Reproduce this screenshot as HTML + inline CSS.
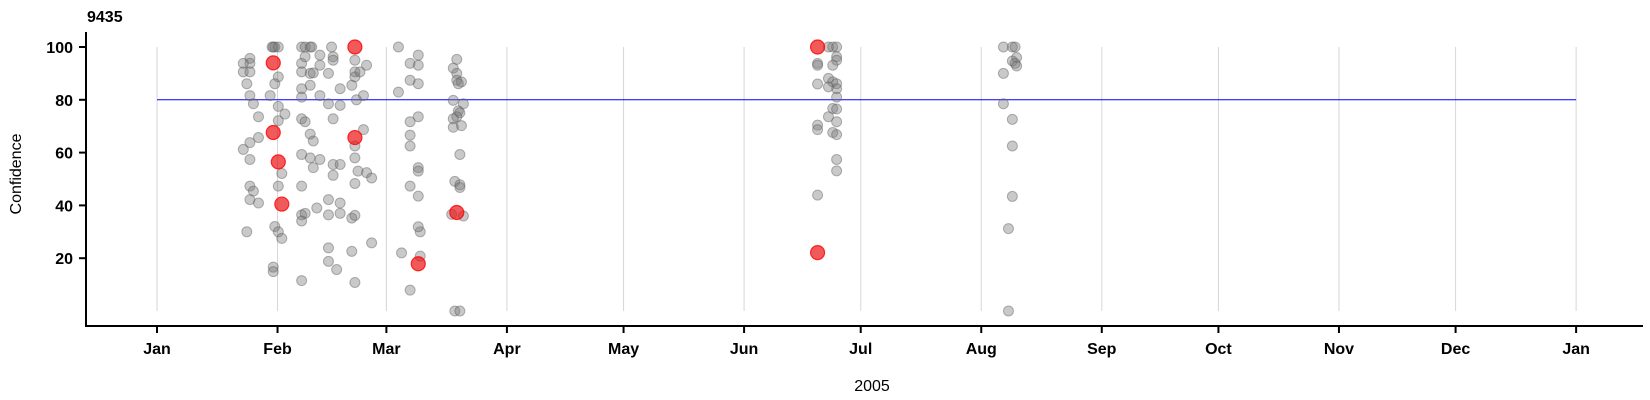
<!DOCTYPE html>
<html><head><meta charset="utf-8"><style>
html,body{margin:0;padding:0;background:#fff;}
svg{display:block;font-family:"Liberation Sans",Arial,sans-serif;}
</style></head><body>
<svg id="chart" width="1650" height="400">
<text x="87" y="22" font-size="16" font-weight="bold" fill="#000">9435</text>
<g id="grid"></g>
<g id="refline"></g>
<g id="points"></g>
<g id="axes"></g>
<text transform="translate(21,174) rotate(-90)" text-anchor="middle" font-size="16">Confidence</text>
<text x="872" y="391" text-anchor="middle" font-size="16">2005</text>
</svg>
<script>
const monthLabels=["Jan","Feb","Mar","Apr","May","Jun","Jul","Aug","Sep","Oct","Nov","Dec","Jan"];
const monthDays=[0,31,59,90,120,151,181,212,243,273,304,334,365];
const yTicks=[20,40,60,80,100];
const threshold=80;
const grayDays=[29.9,30.3,29.6,31.2,37.2,38.1,39.4,39.8,44.9,62.1,
23.9,23.9,22.2,22.2,23.9,23.1,23.9,24.8,26.1,26.1,23.9,22.2,23.9,23.9,24.8,23.9,26.1,23.1,
30.3,31.2,32.1,29.9,29.9,31.2,30.3,29.1,31.2,32.9,31.2,32.1,31.2,37.2,
37.2,38.1,37.2,39.4,40.2,41.9,41.9,44.1,45.3,45.3,47.1,41.9,44.1,47.1,37.2,37.2,39.4,45.3,37.2,38.1,39.4,40.2,39.4,37.2,40.2,41.9,45.3,47.1,45.3,37.2,38.1,37.2,41.1,44.1,44.1,47.1,47.1,50.1,50.9,44.1,44.1,46.2,37.2,50.1,50.9,
50.9,50.9,50.9,52.2,53.9,50.1,53.1,51.3,50.9,50.9,51.7,53.9,55.2,50.9,53.1,55.2,
65.1,67.2,67.2,65.1,67.2,62.1,67.2,65.1,65.1,65.1,67.2,67.2,65.1,67.2,62.9,67.7,65.1,67.7,67.2,
77.1,76.2,77.1,77.1,78.3,77.5,76.2,78.8,77.5,77.9,77.1,76.2,78.3,76.2,77.9,76.6,77.9,77.9,78.8,75.8,76.6,77.9,
172.7,173.8,174.8,169.9,169.9,174.8,174.8,173.8,172.7,173.8,174.8,174.8,169.9,172.7,174.8,173.8,174.8,172.7,174.8,169.9,169.9,173.8,174.8,174.8,174.8,169.9,
217.7,220,220.7,221.1,220,220.7,221.1,217.7,217.7,220,220,220,219,219];
const grayValues=[100,100,100,100,100,100,100,100,100,100,
95.7,93.8,93.8,90.6,90.6,86.1,81.6,78.5,73.6,65.7,63.8,61.2,57.4,47.3,45.4,42.2,40.9,30,
32,30,27.5,16.6,14.9,88.7,86.1,81.6,77.5,74.6,72.1,52.1,47.3,47.3,
93.8,96.3,90.6,90,90.2,96.9,93.1,90,96.3,95,84.2,81.6,78.5,77.9,84.2,81,85.5,72.8,72.8,71.7,67,64.4,58,59.3,54.3,57.4,55.5,55.5,51.4,36.4,37,34.1,39,42.2,36.4,40.9,37,35.2,36.2,23.9,18.8,15.7,11.5,22.6,10.8,
95,90.6,88.7,90.6,93.1,85.5,81.6,80,62.5,58,53,52.4,50.4,48.3,68.7,25.8,
93.8,96.9,93.1,87.4,86.1,82.9,73.6,71.7,66.6,62.5,54.3,53,47.3,43.5,22,20.8,7.9,30,31.9,
95.3,92,90,87.4,86.8,86.1,79.8,78.5,75.8,75.1,73.6,72.8,70.2,69.6,59.3,49.1,47.8,46.8,36,36.6,0,0,
100,100,100,93.8,93.1,96.3,95,93.1,88.1,86.8,86.1,84.2,86,84.9,81,76.7,76.5,73.6,71.7,70.4,68.7,67.6,66.8,57.4,53.1,43.9,
100,100,100,96,94.7,93.8,92.8,90,78.5,72.6,62.5,43.4,31.2,0];
const redDays=[29.9,50.9,29.9,50.9,31.2,32.1,67.2,77.1,169.9,169.9];
const redValues=[94,100,67.6,65.7,56.5,40.5,17.9,37.3,100,22.1];

const NS="http://www.w3.org/2000/svg";
const X0=157, DAY=3.888, Y0=311, YS=2.64;
function xScale(d){return X0+d*DAY;}
function yScale(v){return Y0-v*YS;}
function mk(tag,attrs,parent){const e=document.createElementNS(NS,tag);for(const k in attrs)e.setAttribute(k,attrs[k]);parent.appendChild(e);return e;}

const grid=document.getElementById('grid');
monthDays.forEach((d,i)=>{
  const l=mk('line',{x1:xScale(d),x2:xScale(d),y1:yScale(100),y2:yScale(0),stroke:'#d6d6d6','stroke-width':1},grid);
  
  
});
const rl=document.getElementById('refline');
const hl=mk('line',{x1:xScale(0),x2:xScale(365),y1:yScale(threshold),y2:yScale(threshold),stroke:'#0000ff','stroke-width':1},rl);



const pts=document.getElementById('points');
grayDays.forEach((d,i)=>{
  const c=mk('circle',{cx:xScale(d),cy:yScale(grayValues[i]),r:5,fill:'rgba(120,120,120,0.4)',stroke:'rgba(90,90,90,0.45)','stroke-width':1},pts);
  
  
});
redDays.forEach((d,i)=>{
  const c=mk('circle',{cx:xScale(d),cy:yScale(redValues[i]),r:7,fill:'rgba(235,20,20,0.7)',stroke:'rgba(255,0,0,0.8)','stroke-width':1.2},pts);
  
  
});

const ax=document.getElementById('axes');
const ya=mk('line',{x1:86,x2:86,y1:32,y2:327,stroke:'#000','stroke-width':2},ax);


const xa=mk('line',{x1:85,x2:1643,y1:326,y2:326,stroke:'#000','stroke-width':2},ax);


yTicks.forEach(v=>{
  const t=mk('line',{x1:79,x2:86,y1:yScale(v),y2:yScale(v),stroke:'#000','stroke-width':2},ax);
  
  
  const tx=mk('text',{x:73,y:yScale(v)+6,'text-anchor':'end','font-size':16,'font-weight':'bold'},ax);
  tx.textContent=v;
  
  
});
monthDays.forEach((d,i)=>{
  const t=mk('line',{x1:xScale(d),x2:xScale(d),y1:326,y2:333,stroke:'#000','stroke-width':2},ax);
  
  
  const tx=mk('text',{x:xScale(d),y:354,'text-anchor':'middle','font-size':16,'font-weight':'bold'},ax);
  tx.textContent=monthLabels[i];
  
  
});
</script>
</body></html>
